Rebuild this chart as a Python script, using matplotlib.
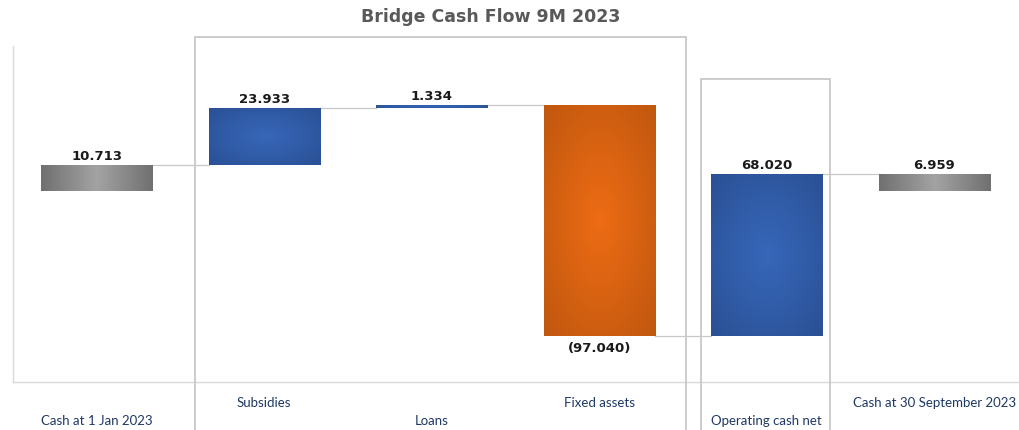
import numpy as np
import matplotlib
matplotlib.use('Agg')
import matplotlib.pyplot as plt
from matplotlib.patches import Rectangle
from matplotlib.colors import to_rgb

# --- Daten ---
categories = ['Cash at 1 Jan 2023', 'Subsidies', 'Loans', 'Fixed assets',
              'Operating cash net', 'Cash at 30 September 2023']
values = [10.713, 23.933, 1.334, -97.040, 68.020, 6.959]
is_total = [True, False, False, False, False, True]
value_labels = ['10.713', '23.933', '1.334', '(97.040)', '68.020', '6.959']

# --- Farben ---
blue_center, blue_edge = '#3767BA', '#2A5094'
orange_center, orange_edge = '#EE6C14', '#BF570F'
grey_center, grey_edge = '#A3A3A3', '#707070'
label_color = '#1F3864'
line_color = '#C8C8C8'

W, H = 1019, 431
fig = plt.figure(figsize=(W / 100, H / 100), dpi=100)
ax = fig.add_axes([13 / W, (H - 383) / H, (1018 - 13) / W, (383 - 47) / H])

# Wasserfall: Unter- und Oberkante jedes Balkens
bottoms, tops = [], []
running = 0.0
for v, tot in zip(values, is_total):
    if tot:
        b, t = 0.0, v
        running = v
    else:
        b, t = running, running + v
        running = t
    bottoms.append(b)
    tops.append(t)

x = np.arange(len(categories))
width = 0.663
heights = [t - b for b, t in zip(bottoms, tops)]
bars = ax.bar(x, heights, bottom=bottoms, width=width, color='none', zorder=3)


def gradient(c_center, c_edge, radial=True, n=200):
    u = np.linspace(-1, 1, n)
    xx, yy = np.meshgrid(u, u)
    if radial:
        d = np.sqrt(xx ** 2 + yy ** 2) / np.sqrt(2)
    else:
        d = np.abs(xx)
    d = np.clip(d, 0, 1)[..., None]
    c0 = np.array(to_rgb(c_center))
    c1 = np.array(to_rgb(c_edge))
    return c0 * (1 - d) + c1 * d


for i, bar in enumerate(bars):
    v = values[i]
    if is_total[i]:
        img = gradient(grey_center, grey_edge, radial=False)
    elif v < 0:
        img = gradient(orange_center, orange_edge)
    else:
        img = gradient(blue_center, blue_edge)
    x0 = bar.get_x()
    lo, hi = min(bottoms[i], tops[i]), max(bottoms[i], tops[i])
    im = ax.imshow(img, extent=[x0, x0 + width, lo, hi], aspect='auto',
                   origin='lower', zorder=3, interpolation='bilinear')
    im.set_clip_path(bar)

# Verbindungslinien zwischen den Balken
for i in range(len(values) - 1):
    level = tops[i]
    ax.plot([x[i] + width / 2, x[i + 1] - width / 2], [level, level],
            color=line_color, lw=0.9, zorder=2)

# Wertbeschriftungen
for i, lab in enumerate(value_labels):
    if values[i] < 0:
        ax.text(x[i], min(bottoms[i], tops[i]) - 2.0, lab, ha='center', va='top',
                fontsize=9.5, fontweight='bold', color='#1a1a1a', zorder=4)
    else:
        ax.text(x[i], max(bottoms[i], tops[i]) + 1.2, lab, ha='center', va='bottom',
                fontsize=9.5, fontweight='bold', color='#1a1a1a', zorder=4)

ax.set_xlim(-0.5, len(categories) - 0.5)
ax.set_ylim(-80.3, 60.7)
ax.set_xticks([])
ax.set_yticks([])
for side in ['top', 'right']:
    ax.spines[side].set_visible(False)
for side in ['left', 'bottom']:
    ax.spines[side].set_color('#D9D9D9')
    ax.spines[side].set_linewidth(1.0)

# Kategorienbeschriftungen, versetzt in zwei Reihen
for i, cat in enumerate(categories):
    y_px = 403 if i % 2 == 1 else 421
    fig.text((13 + (i + 0.5) * (1005 / 6)) / W, (H - y_px) / H, cat,
             ha='center', va='center', fontsize=9.5, color=label_color,
             family='Lato')

# Rahmen um Gruppen
fig.add_artist(Rectangle((195 / W, -0.01), (686 - 195) / W, (H - 38) / H + 0.01,
                         transform=fig.transFigure, fill=False,
                         edgecolor='#C8C8C8', lw=1.3))
fig.add_artist(Rectangle((701 / W, -0.01), (830 - 701) / W, (H - 80) / H + 0.01,
                         transform=fig.transFigure, fill=False,
                         edgecolor='#C8C8C8', lw=1.3))

fig.text(491 / W, (H - 17) / H, 'Bridge Cash Flow 9M 2023', ha='center', va='center',
         fontsize=12.5, fontweight='bold', color='#595959', family='DejaVu Sans')

fig.savefig('out.png', dpi=100)
